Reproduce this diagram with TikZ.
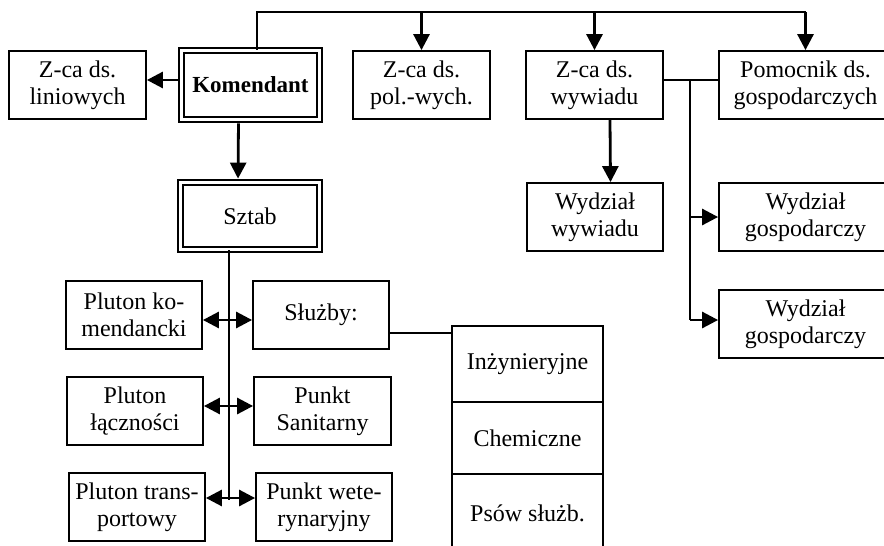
\documentclass[tikz,border=0pt]{standalone}
\usepackage{fontspec}
\setmainfont{Liberation Serif}
\usetikzlibrary{arrows.meta,calc}
\begin{document}
\begin{tikzpicture}[x=0.5pt,y=-0.5pt,
  box/.style={draw, line width=0.9pt, inner sep=0pt, align=center, minimum height=34pt, font=\fontsize{12}{13.5}\selectfont},
  dbox/.style={box, double, double distance=1.5pt},
  arr/.style={line width=1.4pt, -{Triangle[length=8pt,width=8pt]}},
  darr/.style={line width=1.4pt, {Triangle[length=8pt,width=8pt]}-{Triangle[length=8pt,width=8pt]}},
  link/.style={line width=1pt}]
\clip (0,0) rectangle (884,546);
% top row
\node[box, minimum width=68.5pt] (zlin) at (77.5,85) {Z-ca ds.\\liniowych};
\node[dbox, minimum width=69pt, minimum height=34.5pt, font=\fontsize{11.5}{13.5}\selectfont\bfseries] (kom) at (250.5,85) {Komendant};
\node[box, minimum width=68.5pt] (zpol) at (421.5,85) {Z-ca ds.\\pol.-wych.};
\node[box, minimum width=68.5pt] (zwyw) at (594.5,85) {Z-ca ds.\\wywiadu};
\node[box, minimum width=86.5pt] (pom) at (805.5,85) {Pomocnik ds.\\gospodarczych};
% second row
\node[dbox, minimum width=69.5pt, minimum height=33.5pt] (sztab) at (250,216) {Sztab};
\node[box, minimum width=68pt] (wwyw) at (595,217) {Wydział\\wywiadu};
\node[box, minimum width=86.5pt] (wg1) at (805.5,217) {Wydział\\gospodarczy};
\node[box, minimum width=86.5pt] (wg2) at (805.5,324) {Wydział\\gospodarczy};
% staff units
\node[box, minimum width=68pt] (pk) at (134,315) {Pluton ko-\\mendancki};
\node[box, minimum width=68pt] (sl) at (321,315) {Służby:};
\node[box, minimum width=68pt] (pl) at (135,411) {Pluton\\łączności};
\node[box, minimum width=68.5pt] (ps) at (322.5,411) {Punkt\\Sanitarny};
\node[box, minimum width=68pt] (pt) at (137,507) {Pluton trans-\\portowy};
\node[box, minimum width=68pt] (pw) at (324,507) {Punkt wete-\\rynaryjny};
% services column
\node[box, minimum width=75.5pt, minimum height=38pt] (inz) at (527.5,364) {Inżynieryjne};
\node[box, minimum width=75.5pt, minimum height=36pt] (chem) at (527.5,438) {Chemiczne};
\node[box, minimum width=75.5pt, minimum height=39pt] (psow) at (527.5,513) {Psów służb.};
% connectors
\coordinate (top) at (257,12);
\draw[link] (kom.north -| top) -- (top) -- (top -| pom.north);
\draw[arr] (top -| zpol.north) -- (zpol.north);
\draw[arr] (top -| zwyw.north) -- (zwyw.north);
\draw[arr] (top -| pom.north) -- (pom.north);
\draw[arr, shorten <=1.5pt] ([yshift=2.5pt]kom.west) -- ([yshift=2.5pt]zlin.east);
\draw[arr, shorten <=1.5pt, shorten >=1.5pt] ([xshift=-6pt]kom.south) -- ([xshift=-6pt]sztab.north);
\coordinate (sp) at (229,500);
\draw[link] (sztab.south -| sp) -- (sp);
\coordinate (r1) at (229,320);
\coordinate (r2) at (229,406);
\coordinate (r3) at (229,498);
\draw[darr] (pk.east |- r1) -- (sl.west |- r1);
\draw[darr] (pl.east |- r2) -- (ps.west |- r2);
\draw[darr] (pt.east |- r3) -- (pw.west |- r3);
\coordinate (sj) at (389,333);
\draw[link] (sj) -- (sj -| inz.west);
\draw[link] ([yshift=2.5pt]zwyw.east) -- ([yshift=2.5pt]pom.west);
\coordinate (b1) at (690,80);
\coordinate (b2) at (690,320);
\draw[link] (b1) -- (b2);
\draw[arr] (b2) -- (b2 -| wg2.west);
\draw[arr] (wg1.west -| b1) -- (wg1.west);
\draw[arr] ([xshift=7.75pt]zwyw.south) -- ([xshift=7.75pt]wwyw.north);
\end{tikzpicture}
\end{document}
